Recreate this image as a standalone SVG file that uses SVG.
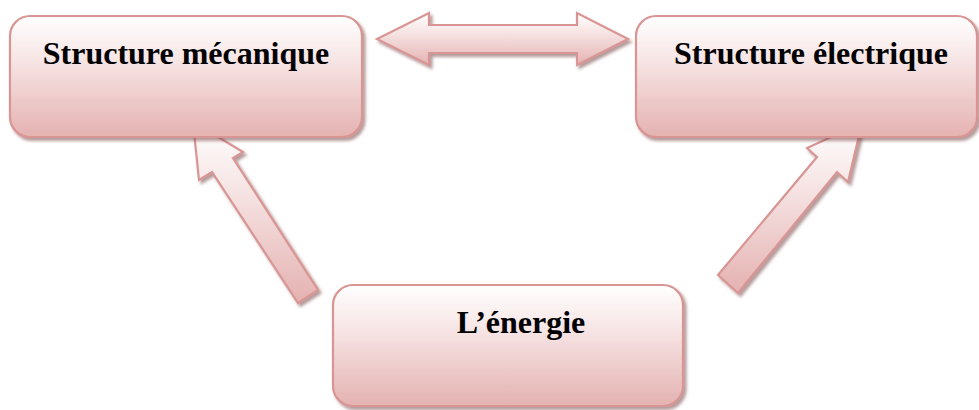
<svg xmlns="http://www.w3.org/2000/svg" width="979" height="410" viewBox="0 0 979 410">
  <defs>
    <linearGradient id="pinkFill" x1="0" y1="0" x2="0" y2="1">
      <stop offset="0" stop-color="#ffffff"/>
      <stop offset="0.35" stop-color="#f7e6e6"/>
      <stop offset="1" stop-color="#e4b2b1"/>
    </linearGradient>
    <filter id="shadow" x="-10%" y="-10%" width="125%" height="130%">
      <feDropShadow dx="2.5" dy="3" stdDeviation="1.6" flood-color="#7a4a4a" flood-opacity="0.55"/>
    </filter>
  </defs>
  <style>
    .shape { fill: url(#pinkFill); stroke: #d99594; stroke-width: 2.2; stroke-linejoin: miter; filter: url(#shadow); }
    .label { font-family: "Liberation Serif", "Times New Roman", serif; font-weight: bold; font-size: 32px; fill: #000000; text-anchor: middle; }
  </style>

  <!-- connectors -->
  <g id="connectors">
    <!-- double arrow between the two structures -->
    <polygon class="shape" points="377,39 429,13 429,25 577,25 577,13 628,39 577,65 577,53 429,53 429,65"/>
    <!-- energy to mechanical structure -->
    <polygon class="shape" points="193,122 243,152 233,158 318,290 298,303 212,172 199,180"/>
    <!-- energy to electrical structure -->
    <polygon class="shape" points="862,123 848,182 837,172 738,293 718,275 817,157 807,148"/>
  </g>

  <g id="node-mecanique">
    <rect class="shape" x="10" y="16" width="352" height="121" rx="20" ry="20"/>
    <text class="label" x="186" y="64">Structure mécanique</text>
  </g>

  <g id="node-electrique">
    <rect class="shape" x="636" y="16" width="341" height="121" rx="20" ry="20"/>
    <text class="label" x="811" y="64">Structure électrique</text>
  </g>

  <g id="node-energie">
    <rect class="shape" x="333" y="285" width="350" height="121" rx="20" ry="20"/>
    <text class="label" x="521" y="333">L’énergie</text>
  </g>
</svg>
